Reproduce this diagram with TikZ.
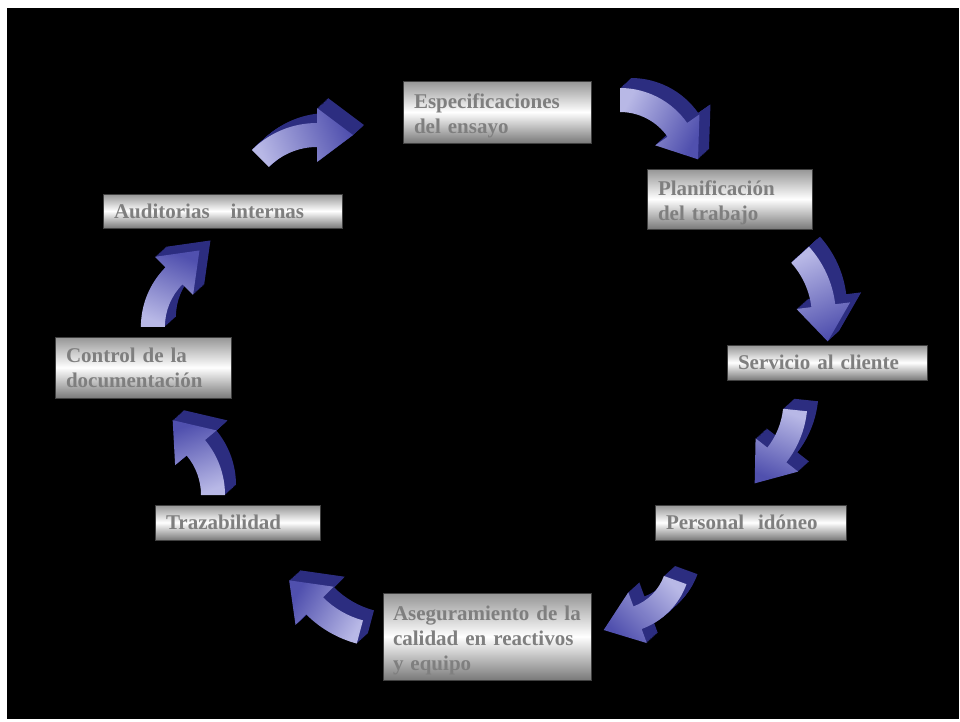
\documentclass[tikz,border=0pt]{standalone}
\usepackage{fontspec}
\setmainfont{Liberation Serif}
\usetikzlibrary{calc}
\definecolor{arrlight}{HTML}{B8B8E6}
\definecolor{arrblue}{HTML}{5050AE}
\definecolor{arrside}{HTML}{2C2D80}
\definecolor{boxtext}{HTML}{7F7F7F}
\definecolor{boxtop}{HTML}{959595}
\definecolor{boxbot}{HTML}{7A7A7A}
\tikzset{
  box/.style={draw=black!75, line width=0.8pt, top color=boxtop, bottom color=boxbot,
    middle color=white, text=boxtext, font=\bfseries\fontsize{21}{25}\selectfont,
    align=left, inner xsep=11pt, inner ysep=0pt},
  lowered/.style={execute at begin node={\rule{0pt}{22pt}}},
  arrowside/.style={fill=arrside},
}
% #1 cx  #2 cy  #3 R  #4 start angle  #5 end angle  #6 sign (-1 cw, +1 ccw)  #7 shading angle  #8 dx  #9 dy
\newcommand{\threedarrow}[9]{%
  \begin{scope}[shift={(#1,#2)}, x=1pt, y=1pt]
    \pgfmathsetmacro\Ro{#3+12}
    \pgfmathsetmacro\Ri{#3-12}
    \pgfmathsetmacro\Ho{#3+27}
    \pgfmathsetmacro\Hi{#3-27}
    \pgfmathsetmacro\hd{#5+#6*90}
    \def\arrpath{(#4:\Ro) arc[start angle=#4, end angle=#5, radius=\Ro] -- (#5:\Ho) -- ($(#5:#3)+(\hd:36)$) -- (#5:\Hi) -- (#5:\Ri) arc[start angle=#5, end angle=#4, radius=\Ri] -- cycle}
    \foreach \k in {1,...,14}{\fill[arrowside, shift={(\k*#8/14, \k*#9/14)}] \arrpath;}
    \shade[left color=arrlight, right color=arrblue, shading angle=#7] \arrpath;
  \end{scope}}
\begin{document}
\begin{tikzpicture}[x=1pt, y=-1pt]
\useasboundingbox (0,0) rectangle (960,721);
\fill[white] (0,0) rectangle (960,721);
\fill[black] (7,8) rectangle (959,719);

% arrows
\threedarrow{317}{215}{80}{135}{90}{-1}{112.5}{11}{10}
\threedarrow{620}{170}{70}{90}{35}{-1}{62.5}{11}{10}
\threedarrow{731}{317}{93}{42}{7}{-1}{24.5}{11}{10}
\threedarrow{707.5}{400.8}{88}{-6}{-38}{-1}{-22}{11}{10}
\threedarrow{616}{558.5}{63}{-20}{-70}{-1}{-45}{11}{10}
\threedarrow{386}{534.4}{101}{-105}{-135}{-1}{240}{11}{10}
\threedarrow{139.5}{495}{73.5}{0}{40}{1}{200}{11}{10}
\threedarrow{224.9}{326.8}{72}{180}{135}{-1}{157.5}{11}{10}

% boxes
\node[box, lowered, text width=166pt, minimum height=62pt] (spec) at (497,112) {Especificaciones\\del ensayo};
\node[box, lowered, text width=143pt, minimum height=60pt] (plan) at (729.5,199) {Planificación\\del trabajo};
\node[box, text width=178pt, minimum height=35pt] (serv) at (827,362.5) {Servicio al cliente};
\node[box, text width=169pt, minimum height=35pt] (pers) at (750.5,522.5) {Personal\ \ idóneo};
\node[box, lowered, inner xsep=10pt, text width=188pt, minimum height=87pt] (aseg) at (487,636.5) {\mbox{Aseguramiento de la}\\\mbox{calidad en reactivos}\\y equipo};
\node[box, text width=143pt, minimum height=35pt] (traz) at (237.5,522.5) {Trazabilidad};
\node[box, text width=154pt, minimum height=61pt] (ctrl) at (143,367.5) {Control de la\\documentación};
\node[box, text width=217pt, minimum height=34pt] (audit) at (222.5,211) {Auditorias\ \ \ internas};
\end{tikzpicture}
\end{document}
